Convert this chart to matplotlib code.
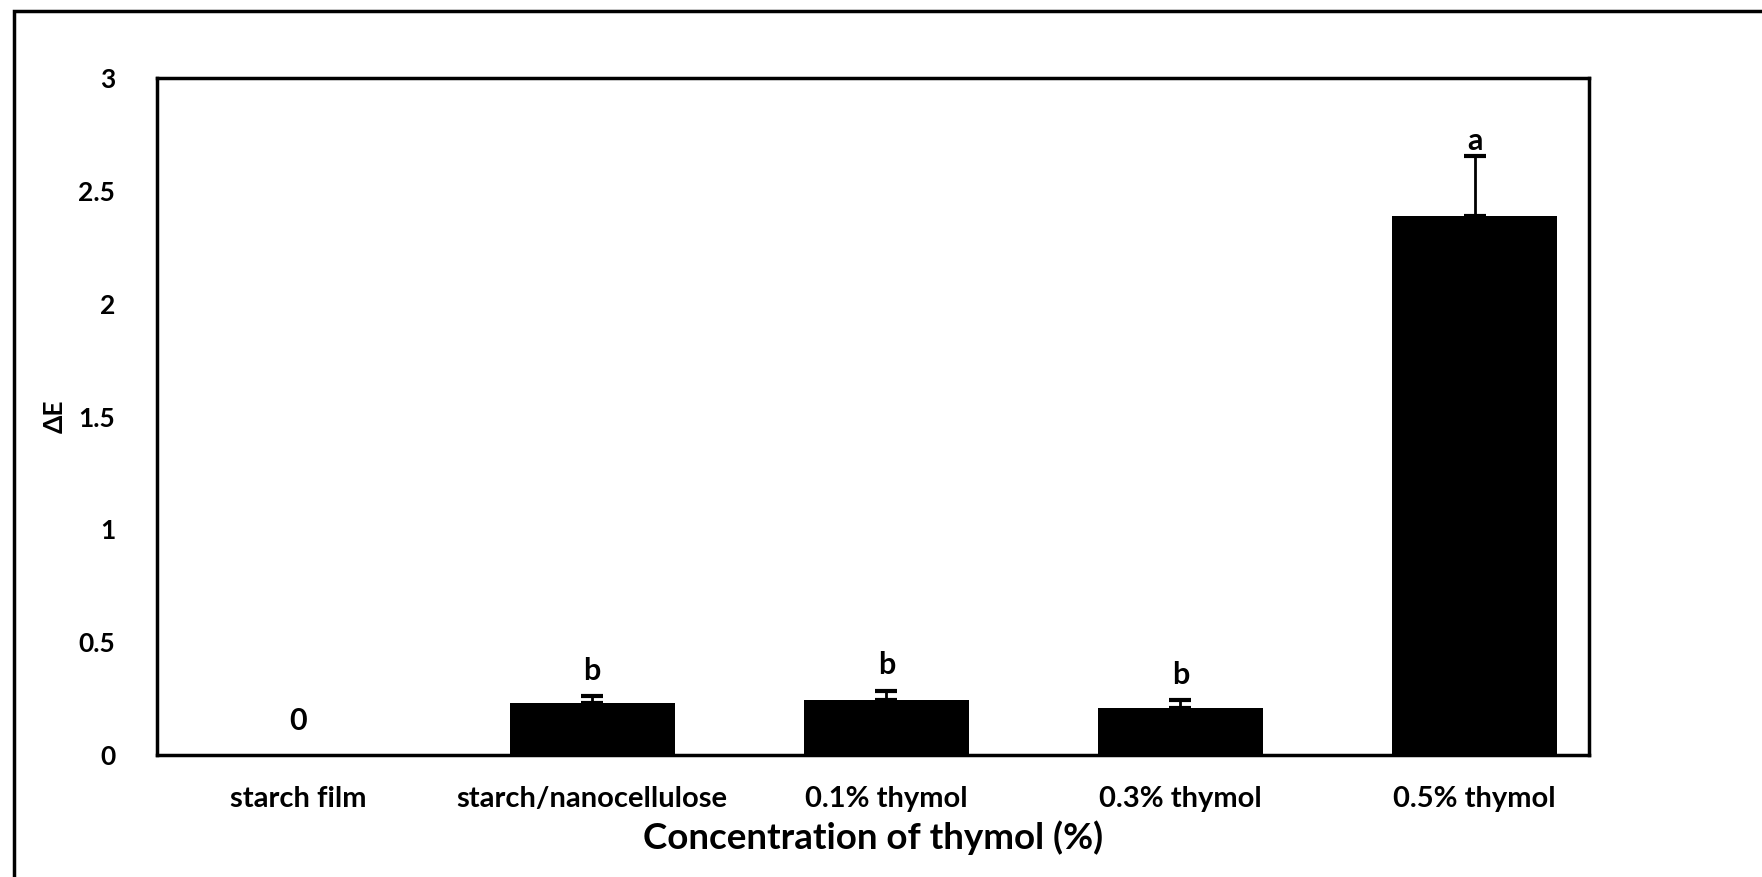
import matplotlib.pyplot as plt
import matplotlib.patches as mpatches
import numpy as np

# --- Data ---
categories = ['starch film', 'starch/nanocellulose', '0.1% thymol', '0.3% thymol', '0.5% thymol']
delta_e = [0.0, 0.23, 0.245, 0.21, 2.39]
err_up = [0.0, 0.03, 0.04, 0.035, 0.265]
letters = ['0', 'b', 'b', 'b', 'a']
yticks = [0, 0.5, 1, 1.5, 2, 2.5, 3]
ytick_labels = ['0', '0.5', '1', '1.5', '2', '2.5', '3']

plt.rcParams['font.family'] = ['Lato', 'DejaVu Sans']

fig = plt.figure(figsize=(17.62, 8.77), dpi=100)
ax = fig.add_axes([0.089, 0.139, 0.813, 0.772])

x = np.arange(len(categories))
ax.bar(x, delta_e, width=0.56, color='black', zorder=2)
# upper error bars only
ax.errorbar(x[1:], delta_e[1:], yerr=[np.zeros(4), err_up[1:]], fmt='none',
            ecolor='black', elinewidth=2, capsize=8, capthick=3, zorder=3)

# significance letters ('a' sits tight on its cap in the original)
for i, (v, e, lab) in enumerate(zip(delta_e, err_up, letters)):
    if lab == '0':
        ypos = 0.09
    elif lab == 'a':
        ypos = v + e + 0.005
    else:
        ypos = v + e + 0.05
    ax.text(i, ypos, lab, ha='center', va='bottom', fontsize=22, fontweight='bold')

ax.set_xlim(-0.48, 4.39)
ax.set_ylim(0, 3)
ax.set_xticks(x)
ax.set_xticklabels(categories, fontsize=21, fontweight='bold')
ax.set_yticks(yticks)
ax.set_yticklabels(ytick_labels, fontsize=19, fontweight='bold')
ax.tick_params(axis='x', length=0, pad=22)
ax.tick_params(axis='y', length=0, pad=30)
for s in ax.spines.values():
    s.set_linewidth(2.5)

ax.set_xlabel('Concentration of thymol (%)', fontsize=26.5, fontweight='bold', labelpad=6)
ax.set_ylabel('ΔE', fontsize=19, fontweight='bold')
ax.yaxis.set_label_coords(-0.063, 0.5)

# outer frame of the original figure box
frame = mpatches.Rectangle((0.008, -0.1), 1.1, 1.088, transform=fig.transFigure,
                           fill=False, edgecolor='black', linewidth=2.5, clip_on=False)
fig.patches.append(frame)

fig.savefig('out.png', dpi=100)
